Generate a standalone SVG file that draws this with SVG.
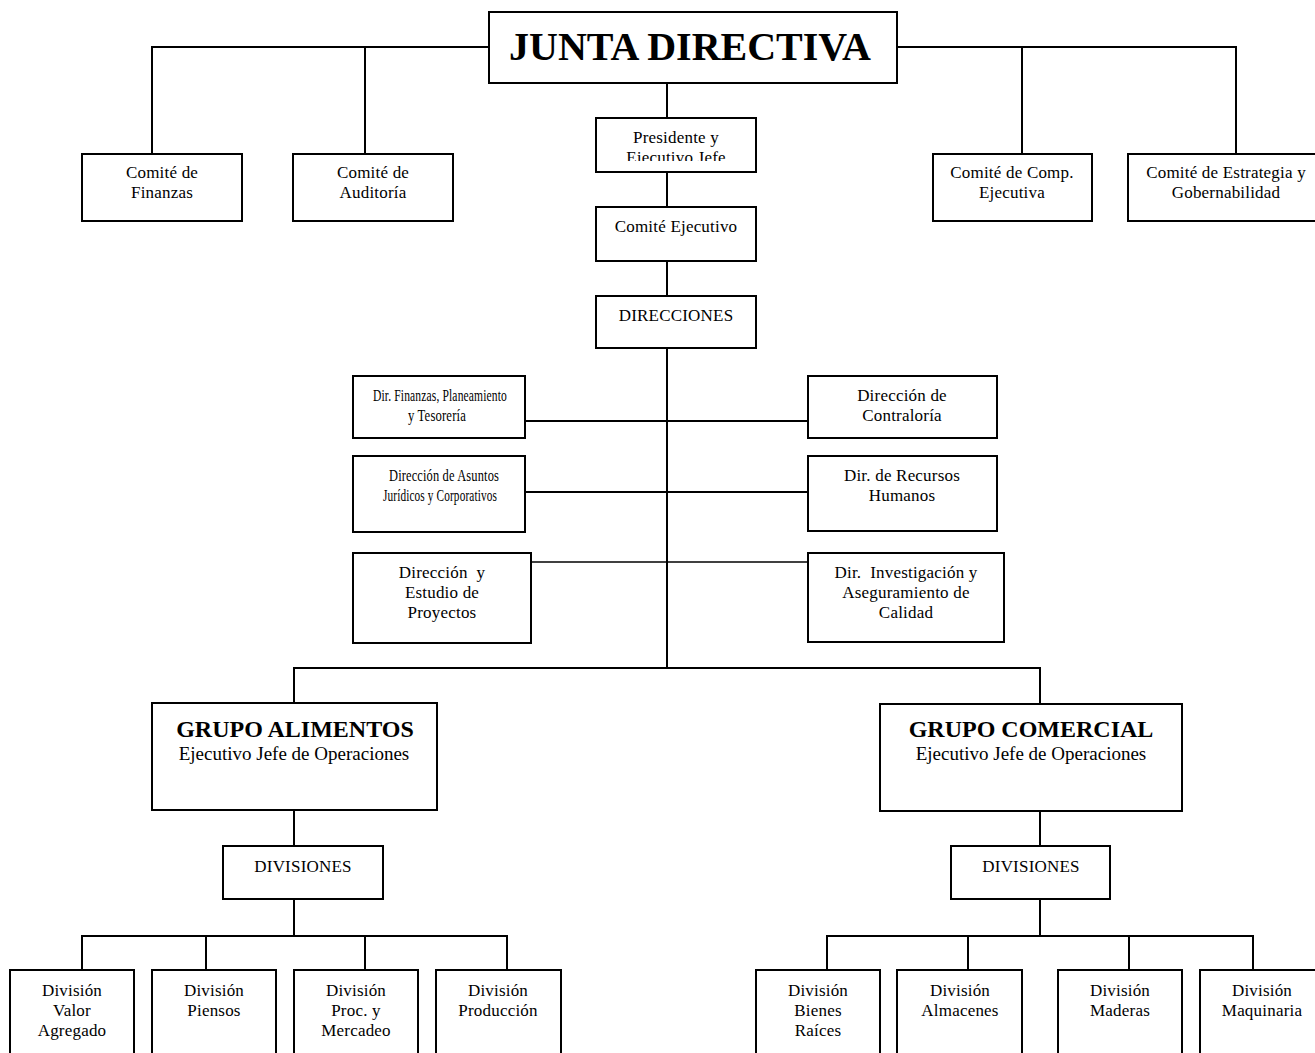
<svg xmlns="http://www.w3.org/2000/svg" width="1315" height="1053" viewBox="0 0 1315 1053">
<style>
rect{fill:#fff;stroke:#000;stroke-width:2}
.c line{stroke:#000;stroke-width:2}
text{font-family:"Liberation Serif","Times New Roman",serif;fill:#000;text-anchor:middle;font-size:17px;letter-spacing:0.2px}
.t{font-size:40px;font-weight:bold;letter-spacing:0}
.g{font-size:24px;font-weight:bold;letter-spacing:0}
.s{font-size:19px;letter-spacing:0}
</style>
<defs><clipPath id="cp"><rect x="597" y="119" width="158" height="42"/></clipPath></defs>
<g class="c">
<line x1="152" y1="47" x2="489" y2="47"/><line x1="897" y1="47" x2="1236" y2="47"/>
<line x1="152" y1="46" x2="152" y2="154"/><line x1="365" y1="46" x2="365" y2="154"/>
<line x1="1022" y1="46" x2="1022" y2="154"/><line x1="1236" y1="46" x2="1236" y2="154"/>
<line x1="667" y1="83" x2="667" y2="118"/><line x1="667" y1="172" x2="667" y2="207"/>
<line x1="667" y1="261" x2="667" y2="296"/><line x1="667" y1="348" x2="667" y2="669"/>
<line x1="525" y1="421" x2="808" y2="421"/><line x1="525" y1="492" x2="808" y2="492"/>
<line x1="531" y1="562" x2="808" y2="562" style="stroke-width:1.5"/>
<line x1="293" y1="668" x2="1041" y2="668"/>
<line x1="294" y1="668" x2="294" y2="703"/><line x1="1040" y1="668" x2="1040" y2="704"/>
<line x1="294" y1="810" x2="294" y2="846"/><line x1="294" y1="899" x2="294" y2="936"/>
<line x1="81" y1="936" x2="508" y2="936"/>
<line x1="82" y1="936" x2="82" y2="970"/><line x1="206" y1="936" x2="206" y2="970"/>
<line x1="365" y1="936" x2="365" y2="970"/><line x1="507" y1="936" x2="507" y2="970"/>
<line x1="1040" y1="811" x2="1040" y2="846"/><line x1="1040" y1="899" x2="1040" y2="936"/>
<line x1="826" y1="936" x2="1254" y2="936"/>
<line x1="827" y1="936" x2="827" y2="970"/><line x1="968" y1="936" x2="968" y2="970"/>
<line x1="1129" y1="936" x2="1129" y2="970"/><line x1="1253" y1="936" x2="1253" y2="970"/>
</g>
<g id="junta"><rect x="489" y="12" width="408" height="71"/><text class="t" x="690" y="60">JUNTA DIRECTIVA</text></g>
<g id="presidente"><rect x="596" y="118" width="160" height="54"/><g clip-path="url(#cp)"><text x="676" y="143">Presidente y</text><text x="676" y="163">Ejecutivo Jefe</text></g></g>
<g id="comite-finanzas"><rect x="82" y="154" width="160" height="67"/><text x="162" y="178">Comité de</text><text x="162" y="198">Finanzas</text></g>
<g id="comite-auditoria"><rect x="293" y="154" width="160" height="67"/><text x="373" y="178">Comité de</text><text x="373" y="198">Auditoría</text></g>
<g id="comite-comp"><rect x="933" y="154" width="159" height="67"/><text x="1012" y="178">Comité de Comp.</text><text x="1012" y="198">Ejecutiva</text></g>
<g id="comite-estrategia"><rect x="1128" y="154" width="196" height="67"/><text x="1226" y="178">Comité de Estrategia y</text><text x="1226" y="198">Gobernabilidad</text></g>
<g id="comite-ejecutivo"><rect x="596" y="207" width="160" height="54"/><text x="676" y="232">Comité Ejecutivo</text></g>
<g id="direcciones"><rect x="596" y="296" width="160" height="52"/><text x="676" y="321">DIRECCIONES</text></g>
<g id="dir-finanzas"><rect x="353" y="376" width="172" height="62"/><text x="440" y="401" font-size="15" textLength="134" lengthAdjust="spacingAndGlyphs">Dir. Finanzas, Planeamiento</text><text x="437" y="421" font-size="15" textLength="58" lengthAdjust="spacingAndGlyphs">y Tesorería</text></g>
<g id="dir-juridicos"><rect x="353" y="456" width="172" height="76"/><text x="444" y="481" font-size="15" textLength="110" lengthAdjust="spacingAndGlyphs">Dirección de Asuntos</text><text x="440" y="501" font-size="15" textLength="114" lengthAdjust="spacingAndGlyphs">Jurídicos y Corporativos</text></g>
<g id="dir-proyectos"><rect x="353" y="553" width="178" height="90"/><text x="442" y="578" xml:space="preserve">Dirección  y</text><text x="442" y="598">Estudio de</text><text x="442" y="618">Proyectos</text></g>
<g id="dir-contraloria"><rect x="808" y="376" width="189" height="62"/><text x="902" y="401">Dirección de</text><text x="902" y="421">Contraloría</text></g>
<g id="dir-rrhh"><rect x="808" y="456" width="189" height="75"/><text x="902" y="481">Dir. de Recursos</text><text x="902" y="501">Humanos</text></g>
<g id="dir-investigacion"><rect x="808" y="553" width="196" height="89"/><text x="906" y="578" xml:space="preserve">Dir.  Investigación y</text><text x="906" y="598">Aseguramiento de</text><text x="906" y="618">Calidad</text></g>
<g id="grupo-alimentos"><rect x="152" y="703" width="285" height="107"/><text class="g" x="295" y="737">GRUPO ALIMENTOS</text><text class="s" x="294" y="760">Ejecutivo Jefe de Operaciones</text></g>
<g id="grupo-comercial"><rect x="880" y="704" width="302" height="107"/><text class="g" x="1031" y="737">GRUPO COMERCIAL</text><text class="s" x="1031" y="760">Ejecutivo Jefe de Operaciones</text></g>
<g id="divisiones-a"><rect x="223" y="846" width="160" height="53"/><text x="303" y="872">DIVISIONES</text></g>
<g id="divisiones-c"><rect x="951" y="846" width="159" height="53"/><text x="1031" y="872">DIVISIONES</text></g>
<g id="div-valor"><rect x="10" y="970" width="124" height="95"/><text x="72" y="996">División</text><text x="72" y="1016">Valor</text><text x="72" y="1036">Agregado</text></g>
<g id="div-piensos"><rect x="152" y="970" width="124" height="95"/><text x="214" y="996">División</text><text x="214" y="1016">Piensos</text></g>
<g id="div-proc"><rect x="294" y="970" width="124" height="95"/><text x="356" y="996">División</text><text x="356" y="1016">Proc. y</text><text x="356" y="1036">Mercadeo</text></g>
<g id="div-produccion"><rect x="436" y="970" width="125" height="95"/><text x="498" y="996">División</text><text x="498" y="1016">Producción</text></g>
<g id="div-bienes"><rect x="756" y="970" width="124" height="95"/><text x="818" y="996">División</text><text x="818" y="1016">Bienes</text><text x="818" y="1036">Raíces</text></g>
<g id="div-almacenes"><rect x="897" y="970" width="125" height="95"/><text x="960" y="996">División</text><text x="960" y="1016">Almacenes</text></g>
<g id="div-maderas"><rect x="1058" y="970" width="124" height="95"/><text x="1120" y="996">División</text><text x="1120" y="1016">Maderas</text></g>
<g id="div-maquinaria"><rect x="1200" y="970" width="124" height="95"/><text x="1262" y="996">División</text><text x="1262" y="1016">Maquinaria</text></g>
</svg>
